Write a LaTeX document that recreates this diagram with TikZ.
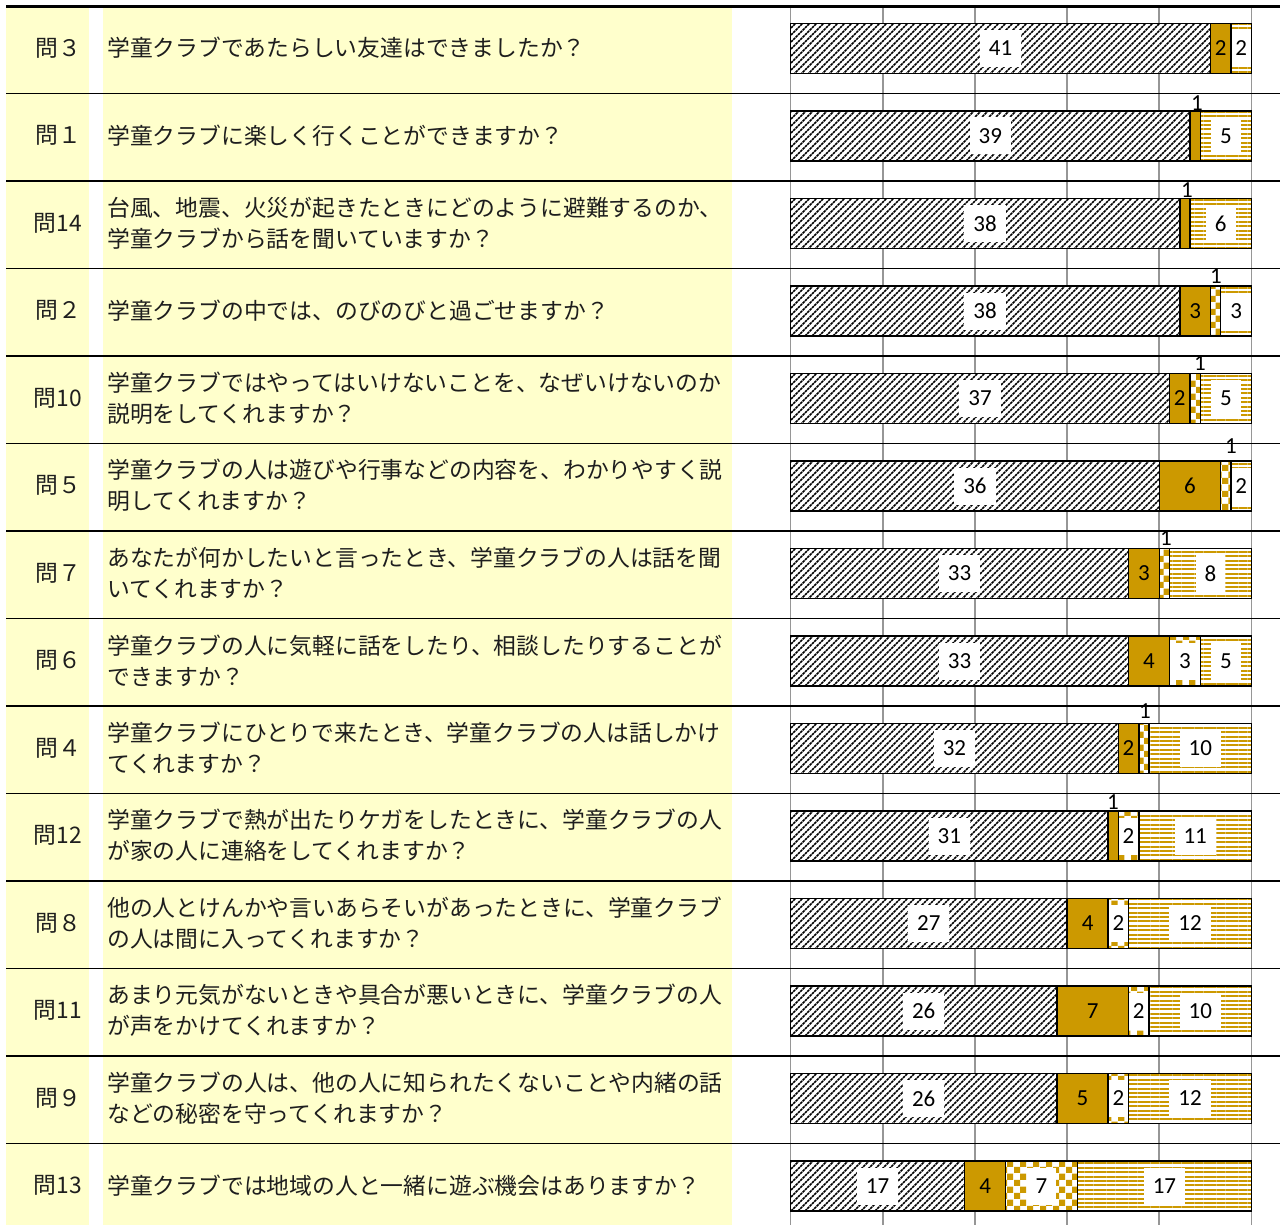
\documentclass[tikz,border=0pt]{standalone}
\usepackage{fontspec}
\setmainfont{Carlito}
\newfontfamily\jp{Noto Sans CJK JP}
\usetikzlibrary{patterns,patterns.meta}
\definecolor{gold}{RGB}{204,153,0}
\definecolor{paleyel}{RGB}{255,255,204}
\definecolor{gridgray}{RGB}{150,150,150}
\definecolor{txt}{RGB}{30,30,30}
\pgfdeclarepatternformonly{darkhatch}{\pgfqpoint{-1pt}{-1pt}}{\pgfqpoint{8pt}{8pt}}{\pgfqpoint{7pt}{7pt}}{%
  \pgfsetlinewidth{1.5pt}%
  \pgfsetdash{{2.6pt}{0.7pt}}{0pt}%
  \pgfpathmoveto{\pgfqpoint{0pt}{0pt}}%
  \pgfpathlineto{\pgfqpoint{7pt}{7pt}}%
  \pgfusepath{stroke}}
\pgfdeclarepatternformonly{goldchecker}{\pgfpointorigin}{\pgfqpoint{13pt}{13pt}}{\pgfqpoint{13pt}{13pt}}{%
  \pgfpathrectangle{\pgfpointorigin}{\pgfqpoint{6.5pt}{6.5pt}}%
  \pgfpathrectangle{\pgfqpoint{6.5pt}{6.5pt}}{\pgfqpoint{6.5pt}{6.5pt}}%
  \pgfusepath{fill}}
\begin{document}
\begin{tikzpicture}[x=1pt,y=-1pt,
  jptext/.style={font=\jp\fontsize{22.8}{31}\selectfont, text=txt, inner sep=0pt},
  numlab/.style={font=\fontsize{23}{23}\selectfont, text=black, inner sep=0pt},
  boxlab/.style={numlab, fill=white, minimum height=37pt, inner xsep=9pt},
  seghatch/.style={preaction={fill=white}, pattern=darkhatch, pattern color=black},
  seggold/.style={fill=gold},
  segcheck/.style={preaction={fill=white}, pattern=goldchecker, pattern color=gold},
  seglines/.style={preaction={fill=white}, pattern={Lines[angle=0,distance=4.4pt,line width=2.1pt]}, pattern color=gold},
  segborder/.style={draw=black, line width=1.4pt},
  gridline/.style={draw=gridgray, line width=1.8pt},
  sepline/.style={draw=black, line width=1.2pt},
]
\useasboundingbox (0,0) rectangle (1280,1225);
% backgrounds
\fill[paleyel] (6,6) rectangle (89,1225);
\fill[paleyel] (103,6) rectangle (732,1225);
% grid lines
\foreach \k in {0,...,5}{
  \draw[gridline] ({790.5+\k*92.2},7) -- ({790.5+\k*92.2},1225);
}
% row separators
\foreach \i in {1,...,13}{
  \draw[sepline] (6,{6+87.5*\i}) -- (1280,{6+87.5*\i});
}
\draw[line width=3pt] (6,6.5) -- (1280,6.5);
% question labels and texts
\foreach \i/\q/\txt in {
  0/問３/{学童クラブであたらしい友達はできましたか？},
  1/問１/{学童クラブに楽しく行くことができますか？},
  2/問14/{台風、地震、火災が起きたときにどのように避難するのか、\\学童クラブから話を聞いていますか？},
  3/問２/{学童クラブの中では、のびのびと過ごせますか？},
  4/問10/{学童クラブではやってはいけないことを、なぜいけないのか\\説明をしてくれますか？},
  5/問５/{学童クラブの人は遊びや行事などの内容を、わかりやすく説\\明してくれますか？},
  6/問７/{あなたが何かしたいと言ったとき、学童クラブの人は話を聞\\いてくれますか？},
  7/問６/{学童クラブの人に気軽に話をしたり、相談したりすることが\\できますか？},
  8/問４/{学童クラブにひとりで来たとき、学童クラブの人は話しかけ\\てくれますか？},
  9/問12/{学童クラブで熱が出たりケガをしたときに、学童クラブの人\\が家の人に連絡をしてくれますか？},
  10/問８/{他の人とけんかや言いあらそいがあったときに、学童クラブ\\の人は間に入ってくれますか？},
  11/問11/{あまり元気がないときや具合が悪いときに、学童クラブの人\\が声をかけてくれますか？},
  12/問９/{学童クラブの人は、他の人に知られたくないことや内緒の話\\などの秘密を守ってくれますか？},
  13/問13/{学童クラブでは地域の人と一緒に遊ぶ機会はありますか？}}{
  \node[jptext] (q\i) at (58,{6+87.5*\i+42}) {\q};
  \node[jptext, anchor=west, align=left] (t\i) at (107,{6+87.5*\i+42}) {\txt};
}
% bars
\foreach \i/\a/\b/\c/\d/\lx/\ly in {
  0/41/2/0/2/0/0, 1/39/1/0/5/1197/103, 2/38/1/0/6/1187/190,
  3/38/3/1/3/1216/276, 4/37/2/1/5/1200/363, 5/36/6/1/2/1231/446,
  6/33/3/1/8/1166/538, 7/33/4/3/5/0/0, 8/32/2/1/10/1145/711,
  9/31/1/2/11/1113/802, 10/27/4/2/12/0/0, 11/26/7/2/10/0/0,
  12/26/5/2/12/0/0, 13/17/4/7/17/0/0}{
  \pgfmathsetmacro\yT{6+87.5*\i+17.5}
  \pgfmathsetmacro\yB{\yT+50}
  \pgfmathsetmacro\yM{\yT+25}
  \pgfmathsetmacro\xA{790.5}
  \pgfmathsetmacro\xB{\xA+\a*10.2444}
  \pgfmathsetmacro\xC{\xB+\b*10.2444}
  \pgfmathsetmacro\xD{\xC+\c*10.2444}
  \pgfmathsetmacro\xE{1251.5}
  % segment a: hatched
  \path[seghatch] (\xA,\yT) rectangle (\xB,\yB);
  \begin{scope}
    \clip (\xA,\yT) rectangle (\xB,\yB);
    \node[boxlab] (va\i) at ({(\xA+\xB)/2},\yM) {\a};
  \end{scope}
  \draw[segborder] (\xA,\yT) rectangle (\xB,\yB);
  % segment b: solid gold
  \path[seggold] (\xB,\yT) rectangle (\xC,\yB);
  \draw[segborder] (\xB,\yT) rectangle (\xC,\yB);
  \ifnum\b>1
    \node[numlab] (vb\i) at ({(\xB+\xC)/2},\yM) {\b};
  \else
    \node[numlab] (vb\i) at (\lx,\ly) {1};
  \fi
  % segment c: checker
  \ifnum\c>0
    \path[segcheck] (\xC,\yT) rectangle (\xD,\yB);
    \ifnum\c>1
      \begin{scope}
        \clip (\xC,\yT) rectangle (\xD,\yB);
        \node[boxlab] (vc\i) at ({(\xC+\xD)/2},\yM) {\c};
      \end{scope}
    \else
      \node[numlab] (vc\i) at (\lx,\ly) {1};
    \fi
    \draw[segborder] (\xC,\yT) rectangle (\xD,\yB);
  \fi
  % segment d: horizontal lines
  \path[seglines] (\xD,\yT) rectangle (\xE,\yB);
  \begin{scope}
    \clip (\xD,\yT) rectangle (\xE,\yB);
    \node[boxlab] (vd\i) at ({(\xD+\xE)/2},\yM) {\d};
  \end{scope}
  \draw[segborder] (\xD,\yT) rectangle (\xE,\yB);
}
\end{tikzpicture}
\end{document}
